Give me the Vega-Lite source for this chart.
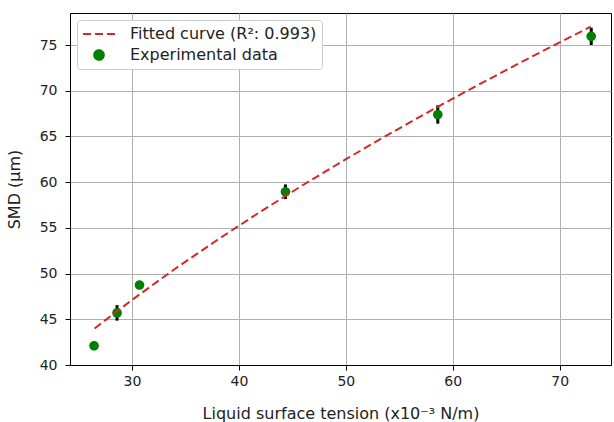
{
  "$schema": "https://vega.github.io/schema/vega-lite/v6.json",
  "width": 541,
  "height": 352,
  "autosize": "none",
  "padding": {"left": 70, "top": 13, "right": 3, "bottom": 57},
  "background": "white",
  "config": {
    "font": "DejaVu Sans",
    "view": {"stroke": "black", "strokeWidth": 1},
    "axis": {
      "grid": true,
      "gridColor": "#b0b0b0",
      "gridWidth": 1,
      "domainColor": "black",
      "tickColor": "black",
      "tickSize": 5,
      "labelFontSize": 14,
      "labelColor": "#222222",
      "titleFontSize": 16,
      "titleFontWeight": "normal",
      "titleColor": "#222222"
    }
  },
  "datasets": {
    "pts": [
      {"x": 26.45, "y": 42.1, "lo": 41.9, "hi": 42.3, "series": "Experimental data"},
      {"x": 28.6, "y": 45.7, "lo": 44.85, "hi": 46.55, "series": "Experimental data"},
      {"x": 30.7, "y": 48.75, "lo": 48.55, "hi": 48.95, "series": "Experimental data"},
      {"x": 44.35, "y": 58.95, "lo": 58.15, "hi": 59.75, "series": "Experimental data"},
      {"x": 58.6, "y": 67.4, "lo": 66.4, "hi": 68.4, "series": "Experimental data"},
      {"x": 72.95, "y": 75.95, "lo": 75.0, "hi": 76.9, "series": "Experimental data"}
    ],
    "fit": [
      {"x": 26.5, "y": 44.0, "series": "Fitted curve (R²: 0.993)"},
      {"x": 30, "y": 47.12, "series": "Fitted curve (R²: 0.993)"},
      {"x": 34, "y": 50.5, "series": "Fitted curve (R²: 0.993)"},
      {"x": 38, "y": 53.7, "series": "Fitted curve (R²: 0.993)"},
      {"x": 42, "y": 56.76, "series": "Fitted curve (R²: 0.993)"},
      {"x": 46, "y": 59.69, "series": "Fitted curve (R²: 0.993)"},
      {"x": 50, "y": 62.51, "series": "Fitted curve (R²: 0.993)"},
      {"x": 54, "y": 65.22, "series": "Fitted curve (R²: 0.993)"},
      {"x": 58, "y": 67.86, "series": "Fitted curve (R²: 0.993)"},
      {"x": 62, "y": 70.4, "series": "Fitted curve (R²: 0.993)"},
      {"x": 66, "y": 72.88, "series": "Fitted curve (R²: 0.993)"},
      {"x": 70, "y": 75.29, "series": "Fitted curve (R²: 0.993)"},
      {"x": 72.9, "y": 77.0, "series": "Fitted curve (R²: 0.993)"}
    ]
  },
  "layer": [
    {
      "data": {"name": "pts"},
      "mark": {"type": "rule", "color": "black", "strokeWidth": 3},
      "encoding": {
        "x": {"field": "x", "type": "quantitative"},
        "y": {"field": "lo", "type": "quantitative"},
        "y2": {"field": "hi"}
      }
    },
    {
      "data": {"name": "pts"},
      "mark": {"type": "point", "filled": true, "size": 256, "opacity": 1},
      "encoding": {
        "x": {"field": "x", "type": "quantitative"},
        "y": {"field": "y", "type": "quantitative"},
        "color": {"field": "series", "type": "nominal"},
        "shape": {"field": "series", "type": "nominal"}
      }
    },
    {
      "data": {"name": "fit"},
      "mark": {"type": "line", "strokeWidth": 2},
      "encoding": {
        "x": {
          "field": "x", "type": "quantitative",
          "scale": {"domain": [24.2, 74.8], "nice": false, "zero": false},
          "axis": {"values": [30, 40, 50, 60, 70], "title": "Liquid surface tension (x10⁻³ N/m)", "titlePadding": 17, "labelPadding": 4}
        },
        "y": {
          "field": "y", "type": "quantitative",
          "scale": {"domain": [40, 78.5], "nice": false, "zero": false},
          "axis": {"values": [40, 45, 50, 55, 60, 65, 70, 75], "title": "SMD (μm)", "titlePadding": 17, "labelPadding": 8}
        },
        "color": {
          "field": "series", "type": "nominal",
          "scale": {"domain": ["Fitted curve (R²: 0.993)", "Experimental data"], "range": ["#d62728", "#008000"]},
          "legend": {
            "title": null,
            "orient": "none",
            "legendX": 7,
            "legendY": 7,
            "padding": 5,
            "fillColor": "white",
            "strokeColor": "#cccccc",
            "cornerRadius": 3,
            "labelFontSize": 16,
            "labelLimit": 400,
            "labelColor": "#222222",
            "rowPadding": 4,
            "symbolOffset": 8,
            "labelOffset": 22,
            "symbolSize": 256,
            "symbolStrokeWidth": 2
          }
        },
        "strokeDash": {
          "field": "series", "type": "nominal",
          "scale": {"domain": ["Fitted curve (R²: 0.993)", "Experimental data"], "range": [[8, 4], [1, 0]]}
        }
      }
    }
  ],
  "resolve": {"scale": {"color": "shared", "shape": "shared", "strokeDash": "shared"}},
  "encoding": {
    "shape": {
      "scale": {"domain": ["Fitted curve (R²: 0.993)", "Experimental data"], "range": ["M-2,0H2", "M-0.6,0A0.6,0.6 0 1,0 0.6,0A0.6,0.6 0 1,0 -0.6,0Z"]}
    }
  }
}
